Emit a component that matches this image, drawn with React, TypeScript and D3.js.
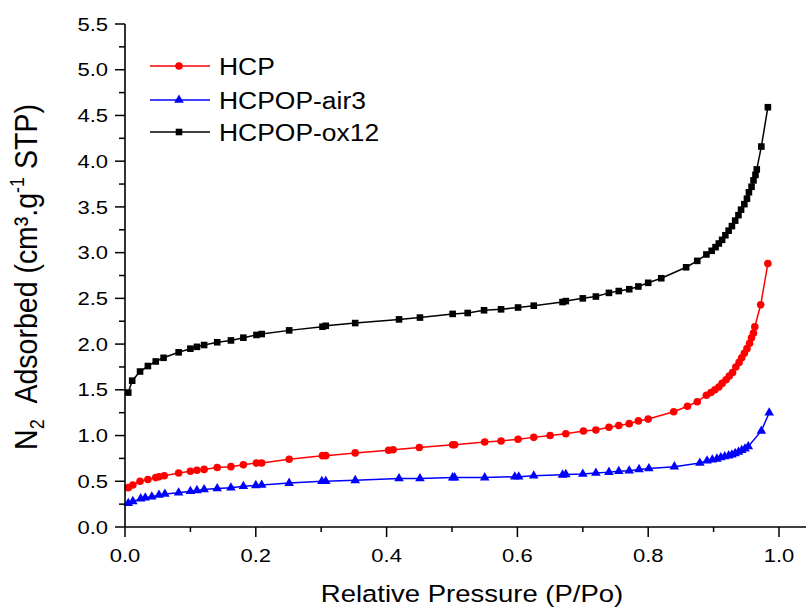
import React from "react";
import * as d3 from "d3";

const hcpP = [0.005,0.012,0.023,0.035,0.047,0.052,0.060,0.082,0.100,0.110,0.121,0.141,0.162,0.181,0.201,0.209,0.251,0.302,0.307,0.352,0.403,0.410,0.450,0.501,0.504,0.550,0.575,0.601,0.625,0.650,0.674,0.701,0.720,0.740,0.755,0.771,0.785,0.800,0.839,0.860,0.875,0.889,0.896,0.902,0.908,0.913,0.919,0.924,0.929,0.934,0.939,0.943,0.947,0.951,0.955,0.958,0.961,0.963,0.972,0.983];
const hcpV = [0.43,0.46,0.50,0.52,0.54,0.55,0.56,0.59,0.61,0.62,0.63,0.65,0.66,0.68,0.70,0.70,0.74,0.78,0.78,0.81,0.84,0.845,0.87,0.90,0.90,0.93,0.94,0.96,0.98,1.00,1.02,1.05,1.06,1.09,1.11,1.13,1.16,1.18,1.26,1.32,1.37,1.44,1.47,1.50,1.53,1.57,1.61,1.65,1.69,1.75,1.80,1.85,1.90,1.95,2.01,2.07,2.12,2.19,2.43,2.88];

const airP = [0.005,0.012,0.024,0.031,0.041,0.052,0.061,0.082,0.100,0.110,0.121,0.141,0.162,0.181,0.200,0.209,0.251,0.301,0.307,0.352,0.419,0.451,0.501,0.504,0.550,0.596,0.602,0.625,0.669,0.674,0.700,0.720,0.740,0.755,0.771,0.786,0.801,0.840,0.879,0.890,0.898,0.905,0.911,0.917,0.923,0.928,0.933,0.938,0.943,0.948,0.953,0.973,0.985];
const airV = [0.26,0.28,0.31,0.32,0.33,0.35,0.36,0.375,0.39,0.40,0.41,0.42,0.43,0.445,0.455,0.46,0.48,0.50,0.50,0.51,0.53,0.53,0.54,0.54,0.54,0.55,0.55,0.56,0.57,0.575,0.58,0.59,0.60,0.61,0.615,0.63,0.64,0.66,0.70,0.725,0.735,0.745,0.76,0.77,0.78,0.79,0.805,0.82,0.84,0.855,0.88,1.05,1.25];

const oxP = [0.005,0.011,0.023,0.035,0.047,0.059,0.082,0.100,0.110,0.121,0.141,0.162,0.181,0.201,0.209,0.251,0.302,0.307,0.352,0.419,0.451,0.501,0.524,0.549,0.575,0.601,0.625,0.669,0.674,0.700,0.720,0.740,0.755,0.771,0.785,0.800,0.820,0.858,0.875,0.889,0.897,0.903,0.908,0.913,0.918,0.923,0.928,0.933,0.938,0.942,0.947,0.951,0.954,0.958,0.961,0.964,0.966,0.973,0.983];
const oxV = [1.47,1.60,1.70,1.76,1.81,1.85,1.91,1.95,1.97,1.99,2.02,2.04,2.07,2.10,2.11,2.15,2.19,2.20,2.23,2.27,2.29,2.33,2.34,2.37,2.38,2.40,2.42,2.46,2.47,2.50,2.52,2.56,2.58,2.60,2.63,2.67,2.72,2.84,2.91,2.98,3.02,3.06,3.10,3.14,3.19,3.24,3.29,3.35,3.41,3.47,3.53,3.59,3.66,3.72,3.79,3.85,3.91,4.16,4.59];

const xMajor = [0, 0.2, 0.4, 0.6, 0.8, 1.0];
const xMinor = [0.1, 0.3, 0.5, 0.7, 0.9];
const yMajor = [0, 0.5, 1.0, 1.5, 2.0, 2.5, 3.0, 3.5, 4.0, 4.5, 5.0, 5.5];
const yMinor = [0.25, 0.75, 1.25, 1.75, 2.25, 2.75, 3.25, 3.75, 4.25, 4.75, 5.25];

const seriesNames = ["HCP", "HCPOP-air3", "HCPOP-ox12"];
const seriesColors = ["#ff0000", "#0000ff", "#000000"];
const seriesShapes = ["circle", "triangle", "square"];

const FONT = "'Liberation Sans', Arial, Helvetica, sans-serif";

export default function App() {
  const W = 806, H = 609;
  const x = d3.scaleLinear().domain([0, 1]).range([125, 779]);
  const y = d3.scaleLinear().domain([0, 5.5]).range([527, 24]);
  const line = d3.line<[number, number]>().x(d => x(d[0])).y(d => y(d[1]));

  const data = [
    hcpP.map((p, i) => [p, hcpV[i]] as [number, number]),
    airP.map((p, i) => [p, airV[i]] as [number, number]),
    oxP.map((p, i) => [p, oxV[i]] as [number, number]),
  ];

  const circlePath = d3.symbol().type(d3.symbolCircle).size(Math.PI * 3.8 * 3.8)()!;
  const triPath = d3.symbol().type(d3.symbolTriangle).size(40)()!;
  const sqPath = d3.symbol().type(d3.symbolSquare).size(6.6 * 6.6)()!;
  const shapePath = (s: string) => (s === "circle" ? circlePath : s === "triangle" ? triPath : sqPath);

  const tickFs = 18.5, tickSx = 1.19;
  const ax = 125, ay = 527;

  return (
    <svg width={W} height={H} style={{ position: "absolute", left: 0, top: 0, background: "#fff" }} fontFamily={FONT}>
      <rect x={0} y={0} width={W} height={H} fill="#fff" />
      {data.map((d, si) => (
        <g key={si}>
          <path d={line(d)!} fill="none" stroke={seriesColors[si]} strokeWidth={1.5} />
          {d.map((pt, i) => (
            <path key={i} d={shapePath(seriesShapes[si])} transform={`translate(${x(pt[0])},${y(pt[1])})`} fill={seriesColors[si]} />
          ))}
        </g>
      ))}
      <line x1={ax} y1={y(5.5)} x2={ax} y2={ay} stroke="#000" strokeWidth={1.6} />
      <line x1={ax} y1={ay} x2={W} y2={ay} stroke="#000" strokeWidth={1.6} />
      {yMajor.map(v => (
        <g key={"ym" + v}>
          <line x1={ax - 10} x2={ax} y1={y(v)} y2={y(v)} stroke="#000" strokeWidth={1.5} />
          <text transform={`translate(108,${y(v) + 6.6}) scale(${tickSx},1)`} textAnchor="end" fontSize={tickFs} fill="#000">{v.toFixed(1)}</text>
        </g>
      ))}
      {yMinor.map(v => (
        <line key={"yn" + v} x1={ax - 6} x2={ax} y1={y(v)} y2={y(v)} stroke="#000" strokeWidth={1.5} />
      ))}
      {xMajor.map(v => (
        <g key={"xm" + v}>
          <line x1={x(v)} x2={x(v)} y1={ay} y2={ay + 10} stroke="#000" strokeWidth={1.5} />
          <text transform={`translate(${x(v)},562) scale(${tickSx},1)`} textAnchor="middle" fontSize={tickFs} fill="#000">{v.toFixed(1)}</text>
        </g>
      ))}
      {xMinor.map(v => (
        <line key={"xn" + v} x1={x(v)} x2={x(v)} y1={ay} y2={ay + 5} stroke="#000" strokeWidth={1.5} />
      ))}
      <text transform={`translate(472,602) scale(1.18,1)`} textAnchor="middle" fontSize={23.3} fill="#000">Relative Pressure (P/Po)</text>
      <text transform={`translate(37,277) scale(1.12,1) rotate(-90)`} textAnchor="middle" fontSize={28.5} fill="#000">
        <tspan>N</tspan>
        <tspan fontSize={18} dy={6}>2</tspan>
        <tspan dy={-6}>{"\u00A0\u00A0Adsorbed (cm³.g"}</tspan>
        <tspan fontSize={18} dy={-12}>-1</tspan>
        <tspan dy={12}>{"\u00A0STP)"}</tspan>
      </text>
      {seriesNames.map((n, i) => {
        const ly = [66, 100, 132][i];
        return (
          <g key={n}>
            <line x1={150} x2={210} y1={ly} y2={ly} stroke={seriesColors[i]} strokeWidth={1.5} />
            <path d={shapePath(seriesShapes[i])} transform={`translate(179,${ly})`} fill={seriesColors[i]} />
            <text transform={`translate(219,${ly + 9}) scale(1.08,1)`} fontSize={24.5} fill="#000">{n}</text>
          </g>
        );
      })}
    </svg>
  );
}
